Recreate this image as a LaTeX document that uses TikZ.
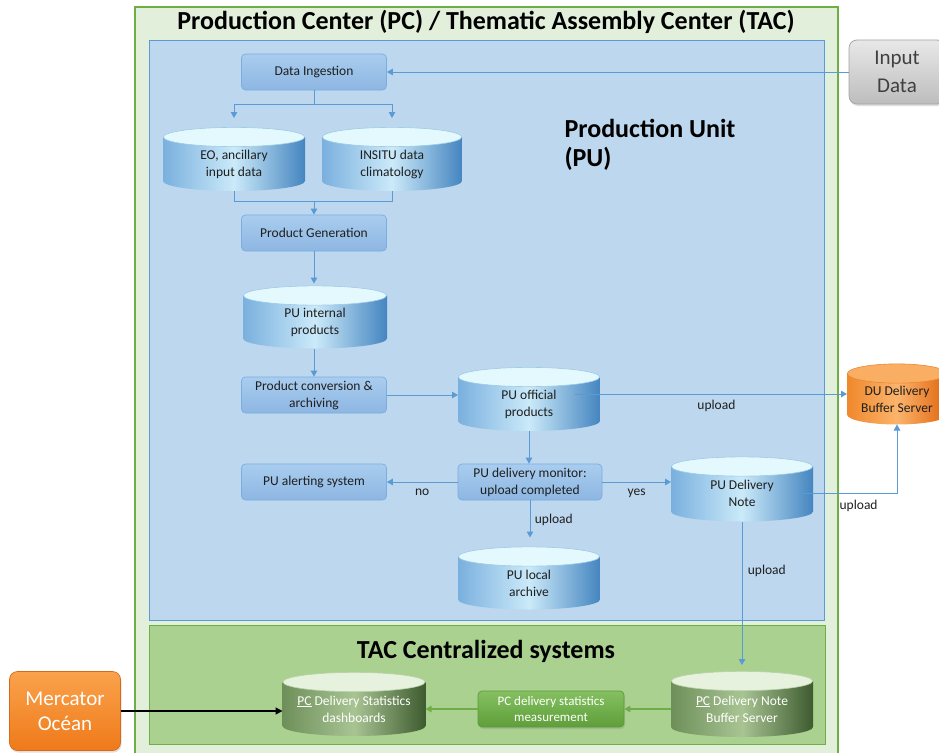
\documentclass[tikz,border=0pt]{standalone}
\usepackage{fontspec}
\setmainfont{Carlito}
\usetikzlibrary{arrows.meta,shadows}

% frame colours
\definecolor{pcFill}{HTML}{E2EFDA}
\definecolor{pcLine}{HTML}{70AD47}
\definecolor{puFill}{HTML}{BDD7EE}
\definecolor{puLine}{HTML}{5B9BD5}
\definecolor{tacFill}{HTML}{AAD190}
% process boxes
\definecolor{boxTop}{HTML}{A9CDEF}
\definecolor{boxBot}{HTML}{8DB6E2}
\definecolor{boxLine}{HTML}{7AAEDF}
\definecolor{grnTop}{HTML}{84C060}
\definecolor{grnBot}{HTML}{5F9E3B}
\definecolor{grnLine}{HTML}{5E9A3C}
\definecolor{grayTop}{HTML}{E8E8E8}
\definecolor{grayBot}{HTML}{BDBDBD}
\definecolor{grayLine}{HTML}{A3A3A3}
\definecolor{orgTop}{HTML}{FAA24C}
\definecolor{orgBot}{HTML}{EF7A1A}
\definecolor{orgLine}{HTML}{D8691A}
% storage drums
\definecolor{bluEdge}{HTML}{7AB0DE}
\definecolor{bluMid}{HTML}{CBEAF9}
\definecolor{bluDark}{HTML}{4585C0}
\definecolor{bluTop}{HTML}{E4F9FE}
\definecolor{bluRim}{HTML}{9ECBE6}
\definecolor{gdEdge}{HTML}{6E8F5A}
\definecolor{gdMid}{HTML}{A8C493}
\definecolor{gdDark}{HTML}{3E5B2F}
\definecolor{gdTop}{HTML}{E6F2DD}
\definecolor{gdRim}{HTML}{B9D1A8}
\definecolor{odEdge}{HTML}{F0882C}
\definecolor{odMid}{HTML}{FBB46C}
\definecolor{odDark}{HTML}{E0660F}
\definecolor{odTop}{HTML}{FAAE63}
\definecolor{odRim}{HTML}{E98A35}
\definecolor{txt}{HTML}{1F1F1F}

\tikzset{
  tank edge/.store in=\tkEdge, tank mid/.store in=\tkMid,
  tank dark/.store in=\tkDark, tank top/.store in=\tkTop,
  tank rim/.store in=\tkRim, tank rx/.store in=\tkRx,
  tank/.style 2 args={minimum width=#1, minimum height=#2, tank rx={#1/2},
    inner sep=0pt, outer sep=0pt,
    path picture={
      \path[left color=\tkEdge, right color=\tkDark, middle color=\tkMid]
        ([yshift=-10pt]path picture bounding box.north west)
        -- ([yshift=10pt]path picture bounding box.south west)
        arc[start angle=180, end angle=360, x radius=\tkRx, y radius=10]
        -- ([yshift=-10pt]path picture bounding box.north east) -- cycle;
      \path[fill=\tkTop, draw=\tkRim, line width=0.6pt]
        ([yshift=-10pt]path picture bounding box.north)
        ellipse[x radius={\tkRx-0.4}, y radius=9.6];
    }},
  bluetank/.style={tank edge=bluEdge, tank mid=bluMid, tank dark=bluDark,
    tank top=bluTop, tank rim=bluRim},
  greentank/.style={tank edge=gdEdge, tank mid=gdMid, tank dark=gdDark,
    tank top=gdTop, tank rim=gdRim},
  orangetank/.style={tank edge=odEdge, tank mid=odMid, tank dark=odDark,
    tank top=odTop, tank rim=odRim},
  tanktext/.style={align=center, font=\fontsize{13.5}{17}\selectfont, text=txt, inner sep=0pt},
  procbox/.style={draw=boxLine, line width=0.7pt, top color=boxTop, bottom color=boxBot,
    rounded corners=4pt, minimum width=145, minimum height=36, inner sep=1pt,
    align=center, font=\fontsize{13.5}{17}\selectfont, text=txt},
  sidebox/.style={rounded corners=8pt, align=center, line width=0.7pt,
    drop shadow={opacity=0.25, shadow xshift=1pt, shadow yshift=-2pt}},
  title/.style={font=\fontsize{26}{29}\selectfont\bfseries, text=black},
  lbl/.style={font=\fontsize{13.5}{15}\selectfont, text=txt},
  bline/.style={draw=puLine, line width=1pt},
  barrow/.style={bline, -{Triangle[length=6pt,width=6.5pt]}},
  garrow/.style={draw=pcLine, line width=1.2pt, -{Triangle[length=6pt,width=6.5pt]}},
  karrow/.style={draw=black, line width=1.4pt, -{Triangle[length=7pt,width=7pt]}},
}

\begin{document}
\begin{tikzpicture}[x=1pt,y=1pt]
\useasboundingbox (0,0) rectangle (939,-752);

% frames
\path[fill=pcFill, draw=pcLine, line width=1.2pt] (135,-7) rectangle (838,-760);
\path[fill=puFill, draw=puLine, line width=0.9pt] (149,-40) rectangle (824,-620);
\path[fill=tacFill, draw=pcLine, line width=0.9pt] (149,-625) rectangle (825,-744);

\node[title] (pctitle) at (486,-22) {Production Center (PC) / Thematic Assembly Center (TAC)};
\node[title, anchor=west, align=left] (putitle) at (561,-145) {Production Unit\\(PU)};
\node[title] (tactitle) at (486,-651) {TAC Centralized systems};

% production unit
\node[procbox] (di) at (314,-72) {Data Ingestion};
\node[tank={142}{64}, bluetank] (eo) at (234,-159) {};
\node[tanktext] (eo-t) at ([yshift=-5]eo.center) {EO, ancillary\\input data};
\node[tank={140}{64}, bluetank] (insitu) at (392,-159) {};
\node[tanktext] (insitu-t) at ([yshift=-5]insitu.center) {INSITU data\\climatology};
\node[procbox] (pg) at (314,-233) {Product Generation};
\node[tank={144}{63}, bluetank] (puint) at (315,-317) {};
\node[tanktext] (puint-t) at ([yshift=-5]puint.center) {PU internal\\products};
\node[procbox] (pca) at (314,-395) {Product conversion \&\\archiving};
\node[tank={142}{64}, bluetank] (puoff) at (529,-399) {};
\node[tanktext] (puoff-t) at ([yshift=-5]puoff.center) {PU official\\products};
\node[procbox] (alert) at (314,-482) {PU alerting system};
\node[procbox, minimum width=144] (mon) at (530,-482) {PU delivery monitor:\\upload completed};
\node[tank={142}{63}, bluetank] (puloc) at (529,-578) {};
\node[tanktext] (puloc-t) at ([yshift=-5]puloc.center) {PU local\\archive};
\node[tank={142}{65}, bluetank] (pudn) at (742,-489) {};
\node[tanktext] (pudn-t) at ([yshift=-4]pudn.center) {PU Delivery\\Note};

% outside parties
\node[tank={100}{61}, orangetank] (du) at (897,-394) {};
\node[tanktext] (du-t) at ([yshift=-5]du.center) {DU Delivery\\Buffer Server};
\node[sidebox, draw=grayLine, top color=grayTop, bottom color=grayBot,
  minimum width=96, minimum height=64, text=black!75,
  font=\fontsize{21}{28}\selectfont] (inp) at (897,-72) {Input\\Data};
\node[sidebox, draw=orgLine, top color=orgTop, bottom color=orgBot,
  minimum width=111, minimum height=79, text=white,
  font=\fontsize{21}{25}\selectfont] (merc) at (65,-711) {Mercator\\Océan};

% TAC centralized systems
\node[tank={143}{64}, greentank] (dash) at (354,-704) {};
\node[tanktext, text=white] (dash-t) at ([yshift=-5]dash.center) {\underline{PC} Delivery Statistics\\dashboards};
\node[draw=grnLine, line width=0.7pt, top color=grnTop, bottom color=grnBot,
  rounded corners=4pt, minimum width=146, minimum height=36, inner sep=1pt,
  align=center, font=\fontsize{13}{16}\selectfont, text=white,
  drop shadow={opacity=0.25, shadow xshift=1pt, shadow yshift=-2pt}] (meas) at (551,-709)
  {PC delivery statistics\\measurement};
\node[tank={142}{66}, greentank] (pcdn) at (742,-704) {};
\node[tanktext, text=white] (pcdn-t) at ([yshift=-5]pcdn.center) {\underline{PC} Delivery Note\\Buffer Server};

% flows inside the production unit
\draw[barrow] (inp.west) -- (di.east);
\coordinate (split) at (314,-104);
\coordinate (merge) at (314,-201);
\draw[bline] (di.south) -- (split);
\draw[barrow, shorten >=9pt] (split) -| (eo.north);
\draw[barrow, shorten >=9pt] (split) -| (insitu.north);
\draw[bline] (eo.south) |- (insitu.south |- merge) -- (insitu.south);
\draw[barrow] (merge) -- (pg.north);
\draw[barrow, shorten >=2pt] (pg.south) -- (pg.south |- puint.north);
\draw[barrow] (puint.south -| pca.north) -- (pca.north);
\draw[barrow] (pca.east) -- (pca.east -| puoff.west);
\draw[barrow] ([shift={(-25,5)}]puoff.east) -- (du.west)
  node[lbl, pos=0.52, below=2pt] {upload};
\draw[barrow] (puoff.south) -- (puoff.south |- mon.north);
\draw[barrow] (mon.west) -- (alert.east) node[lbl, midway, below=3pt] {no};
\draw[barrow] (mon.east) -- (mon.east -| pudn.west) node[lbl, midway, below=3pt] {yes};
\draw[barrow, shorten >=9pt] (mon.south) -- (mon.south |- puloc.north)
  node[lbl, pos=0.42, right=1pt] {upload};
\draw[barrow] ([shift={(-12,-4)}]pudn.east) -| (du.south)
  node[lbl, pos=0.3, below=3pt] {upload};
\draw[barrow, shorten >=6pt] (pudn.south) -- (pcdn.north)
  node[lbl, pos=0.33, right=2pt] {upload};

% flows inside the TAC
\draw[garrow] (pcdn.west |- meas.east) -- (meas.east);
\draw[garrow] (meas.west) -- (meas.west -| dash.east);
\draw[karrow] (merc.east) -- (merc.east -| dash.west);
\end{tikzpicture}
\end{document}
